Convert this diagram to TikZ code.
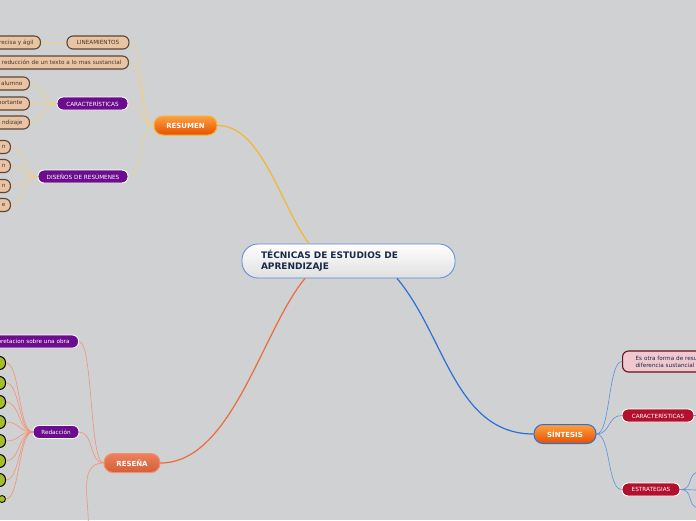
\documentclass[tikz,border=0pt]{standalone}
\usepackage{fontspec}
\setmainfont{DejaVu Sans}
\usetikzlibrary{calc}
\definecolor{bgc}{HTML}{D0D1D3}
\definecolor{tanfill}{HTML}{E8C4A4}
\definecolor{tanline}{HTML}{5B4636}
\definecolor{purp}{HTML}{6B0D8C}
\definecolor{redf}{HTML}{B3102E}
\definecolor{pinkf}{HTML}{EFC9CF}
\definecolor{pinkline}{HTML}{6D0C1E}
\definecolor{leafgreen}{HTML}{A6BD2A}
\definecolor{navy}{HTML}{1B2A4A}
\definecolor{tantext}{HTML}{4A3526}
\definecolor{yelmain}{HTML}{F2B630}
\definecolor{yeltwig}{HTML}{F3D07C}
\definecolor{redmain}{HTML}{EB6A3E}
\definecolor{redtwig}{HTML}{F29274}
\definecolor{bluemain}{HTML}{2C6FD6}
\definecolor{bluetwig}{HTML}{5F8FDC}
\tikzset{
  base/.style={rounded corners=6pt,font=\fontsize{5.7}{6.5}\selectfont,minimum height=13pt,inner sep=0pt},
  tanbox/.style={base,fill=tanfill,draw=tanline,line width=1.1pt,text=tantext},
  purplebox/.style={base,fill=purp,draw=white,line width=0.9pt,text=white},
  redbox/.style={base,fill=redf,draw=white,line width=0.9pt,text=white},
  leaf/.style={base,fill=leafgreen,draw=black,line width=1pt,minimum width=30pt},
  edgebox/.style={anchor=east,text width=#1,align=right,inner xsep=7pt},
  topic/.style={rounded corners=9pt,minimum height=19pt,inner sep=0pt,text=white,line width=1pt,
    font=\bfseries\fontsize{7}{8}\selectfont},
  twig/.style={out=180,in=0,out distance=14pt,in distance=14pt,line width=0.6pt},
  branch/.style={line width=1.2pt}
}
\begin{document}
\begin{tikzpicture}[x=1pt,y=-1pt]
\useasboundingbox (0,0) rectangle (696,520);
\clip (0,0) rectangle (696,520);
\fill[bgc] (0,0) rectangle (696,520);

% centro
\node[rounded corners=16pt,top color=white,bottom color=gray!25,draw=bluemain!80,line width=0.8pt,
  text width=175pt,inner xsep=19pt,minimum height=34pt,align=left,text=navy,
  font=\bfseries\fontsize{9}{11}\selectfont] (tec) at (348.5,261) {TÉCNICAS DE ESTUDIOS DE\\APRENDIZAJE};

% temas
\node[topic,top color=orange!75!white,bottom color=orange!70!red!90!black,draw=yelmain,minimum width=63pt] (resumen) at (185.5,125.5) {RESUMEN};
\node[topic,top color=redmain!85!white,bottom color=redmain!90!black,draw=redtwig,minimum width=56pt] (resena) at (132,463) {RESEÑA};
\node[topic,top color=orange!75!white,bottom color=orange!70!red!90!black,draw=bluemain,minimum width=62pt] (sintesis) at (565,434) {SÍNTESIS};

\draw[branch,yelmain] ($(tec.north)+(-39.5,0)$) .. controls (280,205) and (262,125.5) .. (resumen.east);
\draw[branch,redmain] ($(tec.south)+(-43.5,0)$) .. controls (262,330) and (232,463) .. (resena.east);
\draw[branch,bluemain] ($(tec.south)+(48.5,0)$) .. controls (445,335) and (455,434) .. (sintesis.west);

% RESUMEN
\node[tanbox,minimum width=62pt] (lineam) at (98,42.5) {LINEAMIENTOS};
\node[tanbox,edgebox=60pt] (precisa) at (41,42.5) {recisa y ágil};
\node[tanbox,edgebox=150pt] (reduc) at (129,62.5) {a reducción de un texto a lo mas sustancial};
\node[purplebox,minimum width=71pt] (carac) at (92.5,103.5) {CARACTERÍSTICAS};
\node[purplebox,minimum width=90pt] (disenos) at (83,176.5) {DISEÑOS DE RESÚMENES};
\draw[yeltwig,line width=0.6pt] (lineam.west) -- (precisa.east);
\foreach \n in {lineam,reduc,carac,disenos}
  \draw[twig,yeltwig] (resumen.west) to (\n.east);
\foreach \n/\y/\t in {alumno/83.5/alumno,import/103.5/portante,aprend/122.5/ndizaje}{
  \node[tanbox,edgebox=50pt] (\n) at (30,\y) {\t};
  \draw[twig,yeltwig] (carac.west) to (\n.east);
}
\foreach \n/\y/\t in {d1/147/n,d2/166/n,d3/186/n,d4/205/e}{
  \node[tanbox,edgebox=30pt,inner xsep=5pt] (\n) at (11,\y) {\t};
  \draw[twig,yeltwig] (disenos.west) to (\n.east);
}

% RESEÑA
\node[purplebox,edgebox=100pt,inner xsep=9pt] (obra) at (79,341.5) {pretacion sobre una obra};
\node[purplebox,minimum width=46pt] (redac) at (56,432) {Redacción};
\coordinate (abajo) at (88,530);
\draw[twig,redtwig] (resena.west) to (obra.east);
\draw[twig,redtwig] (resena.west) to (redac.east);
\draw[redtwig,line width=0.6pt] (resena.west) to[out=180,in=85] (abajo);
\foreach \n/\y in {g1/363,g2/383,g3/402,g4/422,g5/441,g6/461,g7/480}{
  \node[leaf,anchor=east] (\n) at (6,\y) {};
  \draw[twig,redtwig] (redac.west) to (\n.east);
}
\node[circle,fill=leafgreen,draw=black,line width=0.8pt,minimum size=7pt,inner sep=0pt] (g8) at (2,499) {};
\draw[twig,redtwig] (redac.west) to (g8.east);

% SÍNTESIS
\node[base,fill=pinkf,draw=pinkline,line width=1.1pt,text=navy,anchor=west,text width=90pt,
  align=left,inner xsep=13pt,minimum height=21pt,font=\fontsize{5.7}{7}\selectfont] (otra) at (622,361.5)
  {Es otra forma de resu\\diferencia sustancial};
\node[redbox,minimum width=72pt] (carac2) at (658,415.5) {CARACTERÍSTICAS};
\node[redbox,minimum width=58pt] (estrat) at (651,489.5) {ESTRATEGIAS};
\foreach \n in {otra,carac2,estrat}
  \draw[twig,bluetwig,out=0,in=180] (sintesis.east) to (\n.west);
\coordinate (c2fin) at (700,415.5);
\draw[bluetwig,line width=0.6pt] (carac2.east) -- (c2fin);
\foreach \n/\y in {e1/472,e2/490,e3/508}{
  \coordinate (\n) at (700,\y);
  \draw[twig,bluetwig,out=0,in=180] (estrat.east) to (\n);
}
\end{tikzpicture}
\end{document}
